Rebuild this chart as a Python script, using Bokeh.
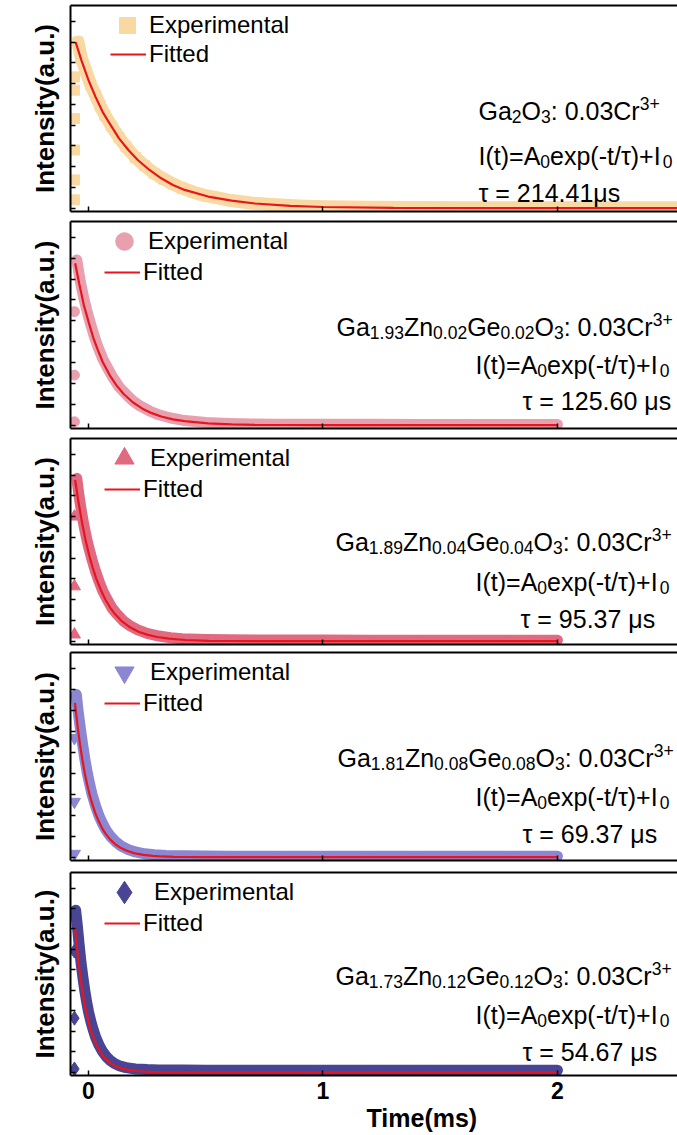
from bokeh.plotting import figure
from bokeh.layouts import column
from bokeh.models import (Range1d, LinearAxis, Legend, LegendItem, Label, Title,
                          FixedTicker, SingleIntervalTicker)
from bokeh.embed import file_html
from bokeh.resources import INLINE

FONT = "Liberation Sans"

# ---------------- data (time in ms, normalised intensity) ----------------
x_ticks = [0, 1, 2]

t_fit_1 = [-0.055, -0.03, 0.0, 0.03, 0.06, 0.09, 0.13, 0.17, 0.21, 0.26, 0.31, 0.36, 0.41, 0.51, 0.61, 0.71, 0.86, 1.0, 1.3, 1.7, 2.0, 2.55]
i_fit_1 = [1.0, 0.89, 0.77, 0.67, 0.58, 0.51, 0.42, 0.35, 0.29, 0.23, 0.18, 0.14, 0.11, 0.07, 0.045, 0.028, 0.014, 0.007, 0.002, 0.0, 0.0, 0.0]
t_exp_1 = [-0.045, -0.03, -0.01, 0.01, 0.03, 0.05, 0.07, 0.1, 0.13, 0.16, 0.2, 0.24, 0.28, 0.32, 0.36, 0.4, 0.45, 0.5, 0.6, 0.7, 0.8, 0.9, 1.0, 1.2, 1.4, 1.6, 1.8, 2.0, 2.2, 2.4, 2.55]
i_exp_1 = [1.0, 0.9, 0.82, 0.74, 0.68, 0.615, 0.56, 0.49, 0.425, 0.37, 0.305, 0.255, 0.21, 0.175, 0.145, 0.12, 0.095, 0.075, 0.048, 0.03, 0.02, 0.013, 0.009, 0.005, 0.004, 0.003, 0.003, 0.002, 0.002, 0.002, 0.002]
t_rise_1 = [-0.06, -0.06, -0.06, -0.06, -0.06, -0.06]
i_rise_1 = [0.05, 0.17, 0.35, 0.54, 0.71, 0.79]

t_fit_2 = [-0.057, -0.04, -0.02, 0.0, 0.02, 0.04, 0.06, 0.09, 0.12, 0.15, 0.19, 0.23, 0.27, 0.31, 0.36, 0.41, 0.51, 0.61, 0.71, 0.86, 1.0, 1.5, 2.0]
i_fit_2 = [0.97, 0.85, 0.72, 0.62, 0.525, 0.45, 0.38, 0.3, 0.237, 0.187, 0.136, 0.099, 0.072, 0.052, 0.035, 0.024, 0.011, 0.005, 0.002, 0.001, 0.0, 0.0, 0.0]
t_exp_2 = [-0.05, -0.035, -0.02, -0.005, 0.01, 0.025, 0.04, 0.06, 0.08, 0.1, 0.13, 0.16, 0.19, 0.22, 0.26, 0.3, 0.35, 0.4, 0.5, 0.6, 0.7, 0.8, 1.0, 1.2, 1.4, 1.6, 1.8, 2.0]
i_exp_2 = [0.99, 0.86, 0.76, 0.675, 0.6, 0.53, 0.47, 0.4, 0.345, 0.295, 0.23, 0.185, 0.145, 0.115, 0.085, 0.062, 0.043, 0.03, 0.016, 0.01, 0.007, 0.006, 0.005, 0.005, 0.004, 0.004, 0.004, 0.004]
t_rise_2 = [-0.06, -0.06, -0.06]
i_rise_2 = [0.02, 0.3, 0.68]

t_fit_3 = [-0.057, -0.042, -0.027, -0.012, 0.003, 0.018, 0.033, 0.053, 0.073, 0.093, 0.113, 0.143, 0.173, 0.213, 0.253, 0.293, 0.343, 0.413, 0.513, 0.613, 0.8, 1.0, 1.5, 2.0]
i_fit_3 = [0.97, 0.83, 0.71, 0.605, 0.517, 0.442, 0.377, 0.307, 0.248, 0.201, 0.163, 0.119, 0.087, 0.057, 0.038, 0.025, 0.015, 0.007, 0.002, 0.001, 0.0, 0.0, 0.0, 0.0]
t_exp_3 = [-0.05, -0.04, -0.03, -0.02, -0.01, 0.0, 0.015, 0.03, 0.045, 0.06, 0.08, 0.1, 0.12, 0.15, 0.18, 0.21, 0.25, 0.3, 0.35, 0.4, 0.5, 0.6, 0.8, 1.0, 1.2, 1.4, 1.6, 1.8, 2.0]
i_exp_3 = [0.98, 0.87, 0.78, 0.7, 0.63, 0.57, 0.49, 0.42, 0.36, 0.305, 0.25, 0.2, 0.165, 0.12, 0.09, 0.068, 0.047, 0.031, 0.021, 0.015, 0.01, 0.008, 0.007, 0.007, 0.006, 0.006, 0.006, 0.006, 0.006]
t_rise_3 = [-0.06, -0.06, -0.06]
i_rise_3 = [0.04, 0.33, 0.75]

t_fit_4 = [-0.058, -0.046, -0.036, -0.026, -0.016, -0.006, 0.004, 0.014, 0.029, 0.044, 0.059, 0.074, 0.094, 0.114, 0.134, 0.164, 0.194, 0.234, 0.274, 0.314, 0.364, 0.414, 0.5, 0.6, 0.8, 1.0, 1.5, 2.0]
i_fit_4 = [0.92, 0.774, 0.67, 0.58, 0.502, 0.435, 0.376, 0.326, 0.262, 0.212, 0.17, 0.137, 0.103, 0.077, 0.058, 0.038, 0.024, 0.014, 0.008, 0.004, 0.002, 0.001, 0.0, 0.0, 0.0, 0.0, 0.0, 0.0]
t_exp_4 = [-0.052, -0.045, -0.035, -0.025, -0.015, -0.005, 0.005, 0.015, 0.03, 0.045, 0.06, 0.075, 0.095, 0.115, 0.14, 0.17, 0.2, 0.24, 0.28, 0.33, 0.4, 0.5, 0.6, 0.8, 1.0, 1.2, 1.4, 1.6, 1.8, 2.0]
i_exp_4 = [0.97, 0.88, 0.77, 0.67, 0.58, 0.5, 0.435, 0.375, 0.305, 0.245, 0.2, 0.16, 0.122, 0.093, 0.066, 0.045, 0.031, 0.02, 0.014, 0.01, 0.008, 0.007, 0.006, 0.006, 0.006, 0.006, 0.006, 0.006, 0.006, 0.006]
t_rise_4 = [-0.06, -0.06, -0.06]
i_rise_4 = [0.02, 0.33, 0.71]

t_fit_5 = [-0.058, -0.05, -0.04, -0.03, -0.02, -0.01, 0.0, 0.01, 0.02, 0.035, 0.05, 0.065, 0.085, 0.105, 0.125, 0.145, 0.175, 0.215, 0.265, 0.315, 0.4, 0.5, 0.7, 1.0, 1.5, 2.0]
i_fit_5 = [0.89, 0.769, 0.641, 0.533, 0.444, 0.37, 0.308, 0.256, 0.214, 0.162, 0.124, 0.093, 0.065, 0.045, 0.031, 0.022, 0.013, 0.006, 0.002, 0.001, 0.0, 0.0, 0.0, 0.0, 0.0, 0.0]
t_exp_5 = [-0.055, -0.048, -0.04, -0.032, -0.024, -0.016, -0.008, 0.0, 0.01, 0.02, 0.03, 0.045, 0.06, 0.075, 0.09, 0.11, 0.13, 0.16, 0.2, 0.25, 0.3, 0.4, 0.5, 0.7, 1.0, 1.2, 1.4, 1.6, 1.8, 2.0]
i_exp_5 = [0.99, 0.9, 0.78, 0.67, 0.58, 0.5, 0.43, 0.37, 0.31, 0.26, 0.215, 0.165, 0.126, 0.097, 0.075, 0.054, 0.04, 0.028, 0.02, 0.016, 0.014, 0.013, 0.012, 0.012, 0.012, 0.012, 0.012, 0.012, 0.012, 0.012]
t_rise_5 = [-0.06, -0.06, -0.06]
i_rise_5 = [0.02, 0.33, 0.74]

compositions = [
    [("Ga", "n"), ("2", "sub"), ("O", "n"), ("3", "sub"), (": 0.03Cr", "n"), ("3+", "sup")],
    [("Ga", "n"), ("1.93", "sub"), ("Zn", "n"), ("0.02", "sub"), ("Ge", "n"), ("0.02", "sub"), ("O", "n"), ("3", "sub"), (": 0.03Cr", "n"), ("3+", "sup")],
    [("Ga", "n"), ("1.89", "sub"), ("Zn", "n"), ("0.04", "sub"), ("Ge", "n"), ("0.04", "sub"), ("O", "n"), ("3", "sub"), (": 0.03Cr", "n"), ("3+", "sup")],
    [("Ga", "n"), ("1.81", "sub"), ("Zn", "n"), ("0.08", "sub"), ("Ge", "n"), ("0.08", "sub"), ("O", "n"), ("3", "sub"), (": 0.03Cr", "n"), ("3+", "sup")],
    [("Ga", "n"), ("1.73", "sub"), ("Zn", "n"), ("0.12", "sub"), ("Ge", "n"), ("0.12", "sub"), ("O", "n"), ("3", "sub"), (": 0.03Cr", "n"), ("3+", "sup")],
]
formula = [("I(t)=A", "n"), ("0", "sub"), ("exp(-t/τ)+I", "n"), ("0", "sub")]
lifetimes = ["τ = 214.41μs", "τ = 125.60 μs", "τ = 95.37 μs", "τ = 69.37 μs", "τ = 54.67 μs"]

# ---------------- styling / layout ----------------
colors = ["#F9D8A2", "#E8A0AF", "#E06A80", "#8C87D2", "#4A4494"]
markers = ["square", "circle", "triangle", "inverted_triangle", "diamond"]
rise_sizes = [10, 10, 12, 12, 14]
band_w = [13, 11, 11, 11, 11]
leg_glyph = [40, 44, 48, 48, 56]
RED = "#E8161C"

X0, X1 = -0.0768, 2.512
Y0, Y1 = -0.02, 1.22

fig_h = [216, 217, 216, 216, 270]
b_top = [5, 5, 5, 3, 7]
b_bot = [5, 5, 5, 5, 60]
# text line positions in frame pixels: (x, y from frame bottom)
text_pos = [
    [(408, 101), (408, 56), (408, 19)],
    [(266, 102), (405, 64), (452, 28)],
    [(265, 103), (405, 63), (450, 26)],
    [(267, 103), (405, 64), (452, 27)],
    [(265, 100), (405, 61), (452, 24)],
]

W = {' ': 278, '(': 333, ')': 333, '+': 584, '-': 333, '.': 278, '/': 278, ':': 278,
     '=': 584, 'A': 667, 'C': 722, 'G': 778, 'I': 278, 'O': 778, 'Z': 611, 'a': 556,
     'e': 556, 'n': 556, 'p': 556, 'r': 333, 's': 500, 't': 278, 'x': 500, 'τ': 480,
     'μ': 577}


def tw(s, fs):
    return sum(W.get(c, 556) for c in s) * fs / 1000.0


def rich_line(p, segs, x, y, fs=25):
    for txt, kind in segs:
        if kind == "n":
            size, dy = fs, 0
        elif kind == "sub":
            size, dy = fs * 0.7, -0.24 * fs
        else:
            size, dy = fs * 0.7, 0.3 * fs
        p.add_layout(Label(x=x, y=y + dy, x_units="screen", y_units="screen", text=txt,
                           text_font=FONT, text_font_size=f"{size:.1f}px",
                           text_baseline="alphabetic", text_align="left",
                           text_color="black"))
        x += tw(txt, size)


data = [
    (t_fit_1, i_fit_1, t_exp_1, i_exp_1, t_rise_1, i_rise_1),
    (t_fit_2, i_fit_2, t_exp_2, i_exp_2, t_rise_2, i_rise_2),
    (t_fit_3, i_fit_3, t_exp_3, i_exp_3, t_rise_3, i_rise_3),
    (t_fit_4, i_fit_4, t_exp_4, i_exp_4, t_rise_4, i_rise_4),
    (t_fit_5, i_fit_5, t_exp_5, i_exp_5, t_rise_5, i_rise_5),
]

figs = []
for k in range(5):
    last = (k == 4)
    fh = fig_h[k] - b_top[k] - b_bot[k]
    p = figure(width=677, height=fig_h[k], x_range=Range1d(X0, X1), y_range=Range1d(Y0, Y1),
               output_backend="svg", toolbar_location=None,
               min_border_left=70, min_border_right=0,
               min_border_top=b_top[k], min_border_bottom=b_bot[k])
    p.outline_line_color = None
    p.grid.visible = False
    p.background_fill_color = "white"
    p.border_fill_color = "white"

    xa = p.xaxis[0]
    xa.ticker = FixedTicker(ticks=x_ticks)
    xa.major_tick_in = 5
    xa.major_tick_out = 0
    xa.minor_tick_line_color = None
    xa.axis_line_width = 2
    xa.major_tick_line_width = 1.5
    if last:
        xa.major_label_text_font = FONT
        xa.major_label_text_font_style = "bold"
        xa.major_label_text_font_size = "23px"
        xa.major_label_text_color = "black"
        xa.major_label_standoff = 6
    else:
        xa.major_label_text_font_size = "0px"
        xa.major_label_text_color = None
        xa.major_label_standoff = 0

    ya = p.yaxis[0]
    ya.ticker = SingleIntervalTicker(interval=0.125, num_minor_ticks=0)
    ya.major_tick_in = 5
    ya.major_tick_out = 0
    ya.minor_tick_line_color = None
    ya.axis_line_width = 2
    ya.major_tick_line_width = 1.5
    ya.major_label_text_font_size = "0px"
    ya.major_label_text_color = None
    ya.major_label_standoff = 0
    ya.axis_label = "Intensity(a.u.)"
    ya.axis_label_text_font = FONT
    ya.axis_label_text_font_style = "bold"
    ya.axis_label_text_font_size = "26px"
    ya.axis_label_text_color = "black"
    ya.axis_label_standoff = 11

    top = LinearAxis(ticker=FixedTicker(ticks=[]), major_tick_in=0, major_tick_out=0,
                     minor_tick_in=0, minor_tick_out=0, major_label_text_font_size="0px",
                     major_label_standoff=0, axis_line_width=2)
    p.add_layout(top, "above")

    t_fit, i_fit, t_exp, i_exp, t_rise, i_rise = data[k]
    c = colors[k]
    # dense experimental points: a band of overlapping markers
    p.line(t_exp, i_exp, line_width=band_w[k], color=c, line_cap="round", line_join="round")
    p.scatter(t_exp, i_exp, marker=markers[k], size=band_w[k] - 3,
              fill_color=c, line_color=c)
    sr = p.scatter(t_rise, i_rise, marker=markers[k], size=rise_sizes[k],
                   fill_color=c, line_color=c)
    fr = p.line(t_fit, i_fit, line_width=2.2, color=RED)

    g = leg_glyph[k]
    cx = 57 if k == 0 else 54          # marker centre, frame px
    cy = 20
    leg_e = Legend(items=[LegendItem(label="Experimental", renderers=[sr])],
                   location=(cx - g / 2, fh - cy - g / 2),
                   glyph_width=g, glyph_height=g, label_standoff=2,
                   padding=0, margin=0, spacing=0, border_line_color=None,
                   background_fill_alpha=0, label_text_font=FONT,
                   label_text_font_size="24px", label_text_color="black")
    lx = 40 if k == 0 else 34
    ly = 49 if k == 0 else 51
    leg_f = Legend(items=[LegendItem(label="Fitted", renderers=[fr])],
                   location=(lx, fh - ly - 15),
                   glyph_width=36, glyph_height=30, label_standoff=3,
                   padding=0, margin=0, spacing=0, border_line_color=None,
                   background_fill_alpha=0, label_text_font=FONT,
                   label_text_font_size="24px", label_text_color="black")
    p.add_layout(leg_e)
    p.add_layout(leg_f)

    (x1, y1), (x2, y2), (x3, y3) = text_pos[k]
    rich_line(p, compositions[k], x1, y1)
    rich_line(p, formula, x2, y2)
    rich_line(p, [(lifetimes[k], "n")], x3, y3)

    if last:
        p.add_layout(Title(text="Time(ms)", align="left", offset=296, standoff=0,
                           text_font=FONT, text_font_style="bold",
                           text_font_size="25px", text_color="black"), "below")
    figs.append(p)

layout = column(*figs, spacing=0)
open("out.html", "w").write(file_html(layout, INLINE, title="Decay curves"))
